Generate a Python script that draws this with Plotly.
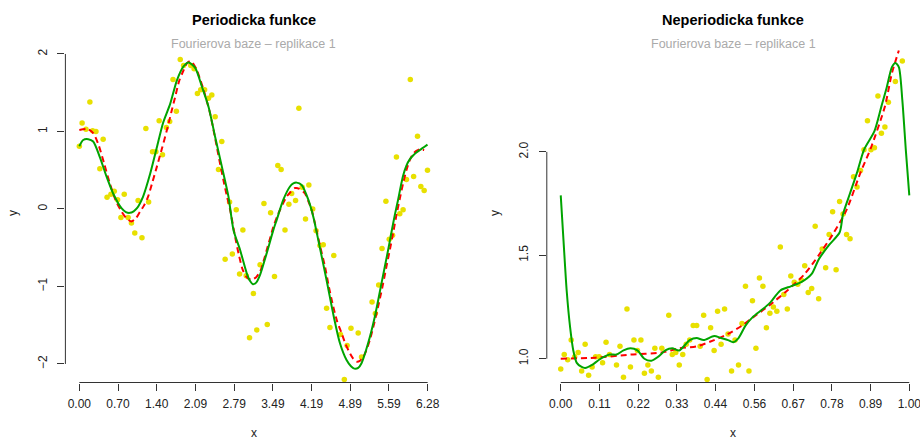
import plotly.graph_objects as go

# ---------------- periodic function panel ----------------
per_x = [0.00, 0.05, 0.12, 0.19, 0.24, 0.30, 0.37, 0.43, 0.50, 0.57, 0.63, 0.69, 0.75, 0.81, 0.88,
         0.94, 1.00, 1.06, 1.13, 1.20, 1.25, 1.32, 1.38, 1.44, 1.50, 1.57, 1.63, 1.69, 1.75, 1.82,
         1.88, 2.01, 2.07, 2.13, 2.19, 2.26, 2.33, 2.39, 2.45, 2.51, 2.57, 2.63, 2.71, 2.76, 2.83,
         2.89, 2.95, 3.01, 3.07, 3.14, 3.20, 3.26, 3.33, 3.39, 3.45, 3.52, 3.58, 3.64, 3.71, 3.78,
         3.83, 3.90, 3.96, 4.02, 4.08, 4.14, 4.21, 4.27, 4.34, 4.40, 4.46, 4.52, 4.59, 4.71, 4.78,
         4.83, 4.90, 5.03, 5.09, 5.28, 5.34, 5.40, 5.46, 5.53, 5.59, 5.65, 5.72, 5.78, 5.84, 5.90,
         5.97, 6.03, 6.10, 6.16, 6.22, 6.28]
per_y = [0.81, 1.11, 1.03, 1.38, 1.01, 1.00, 0.52, 0.90, 0.15, 0.19, 0.23, 0.12, -0.11, 0.19, -0.11,
         -0.18, -0.31, 0.11, -0.37, 1.04, 0.09, 0.74, 0.74, 1.14, 0.70, 1.05, 1.13, 1.67, 1.26, 1.93,
         1.85, 1.85, 1.81, 1.49, 1.54, 1.54, 1.43, 1.47, 1.19, 0.51, 0.87, -0.65, 0.09, -0.58, -0.01,
         -0.84, -0.27, -0.86, -1.66, -1.09, -1.56, -0.72, 0.07, -1.49, -0.05, -0.87, 0.56, 0.51, -0.27, 0.06,
         0.20, 0.11, 1.30, 0.28, -0.13, 0.31, 0.00, -0.28, -0.47, -0.46, -1.28, -1.53, -0.60, -1.62, -2.20,
         -1.76, -1.54, -1.60, -1.91, -1.20, -1.35, -0.98, -0.51, 0.10, -0.39, -0.34, 0.67, -0.06, -0.01, 0.38,
         1.67, 0.42, 0.94, 0.29, 0.24, 0.50]

per_true_x = [0.00, 0.15, 0.25, 0.35, 0.45, 0.55, 0.65, 0.75, 0.85, 0.94, 1.02, 1.09, 1.17, 1.24, 1.32,
              1.40, 1.49, 1.58, 1.66, 1.73, 1.80, 1.88, 1.94, 2.00, 2.06, 2.12, 2.18, 2.24, 2.30, 2.36,
              2.42, 2.48, 2.54, 2.60, 2.66, 2.72, 2.81, 2.88, 2.95, 3.03, 3.11, 3.19, 3.26, 3.32, 3.38,
              3.44, 3.50, 3.56, 3.62, 3.68, 3.74, 3.81, 3.89, 3.97, 4.07, 4.13, 4.19, 4.28, 4.35, 4.43,
              4.50, 4.58, 4.65, 4.73, 4.80, 4.88, 4.94, 5.00, 5.06, 5.12, 5.18, 5.24, 5.30, 5.36, 5.42,
              5.48, 5.54, 5.60, 5.66, 5.72, 5.78, 5.84, 5.90, 5.96, 6.02, 6.08, 6.14, 6.22]
per_true_y = [1.02, 1.03, 0.98, 0.82, 0.58, 0.33, 0.12, -0.02, -0.12, -0.16, -0.12, -0.04, 0.05, 0.16, 0.35,
              0.55, 0.78, 1.02, 1.25, 1.45, 1.65, 1.79, 1.88, 1.91, 1.87, 1.79, 1.67, 1.54, 1.39, 1.23,
              1.02, 0.80, 0.58, 0.37, 0.17, -0.01, -0.36, -0.60, -0.79, -0.89, -0.91, -0.88, -0.81, -0.68, -0.53,
              -0.38, -0.23, -0.11, -0.01, 0.08, 0.16, 0.22, 0.27, 0.26, 0.20, 0.10, -0.01, -0.28, -0.50, -0.74,
              -1.00, -1.26, -1.45, -1.60, -1.74, -1.86, -1.93, -1.97, -1.96, -1.91, -1.82, -1.69, -1.53, -1.35, -1.16,
              -0.96, -0.74, -0.53, -0.31, -0.08, 0.13, 0.33, 0.50, 0.63, 0.71, 0.75, 0.77, 0.76]

per_fit_x = [0.00, 0.07, 0.16, 0.25, 0.37, 0.49, 0.61, 0.76, 0.84, 0.91, 0.98, 1.04, 1.15, 1.28, 1.40,
             1.51, 1.64, 1.76, 1.88, 1.97, 2.09, 2.21, 2.33, 2.45, 2.57, 2.69, 2.78, 2.90, 3.02, 3.08,
             3.13, 3.19, 3.26, 3.38, 3.50, 3.56, 3.68, 3.80, 3.86, 3.92, 4.01, 4.13, 4.22, 4.31, 4.46,
             4.59, 4.70, 4.82, 4.90, 4.96, 5.03, 5.09, 5.21, 5.33, 5.45, 5.57, 5.63, 5.69, 5.75, 5.80,
             5.84, 5.90, 5.96, 6.02, 6.08, 6.16, 6.22, 6.28]
per_fit_y = [0.81, 0.89, 0.90, 0.87, 0.67, 0.42, 0.20, 0.01, -0.04, -0.05, -0.03, 0.01, 0.16, 0.46, 0.80,
             1.11, 1.36, 1.66, 1.84, 1.89, 1.82, 1.58, 1.32, 0.93, 0.55, 0.16, -0.27, -0.53, -0.83, -0.93,
             -0.97, -0.95, -0.85, -0.57, -0.27, -0.14, 0.12, 0.29, 0.33, 0.34, 0.31, 0.12, -0.10, -0.40, -0.92,
             -1.39, -1.73, -1.95, -2.03, -2.06, -2.05, -1.99, -1.73, -1.39, -0.96, -0.53, -0.30, -0.08, 0.12, 0.30,
             0.43, 0.56, 0.64, 0.69, 0.73, 0.77, 0.80, 0.83]

per_ticks = [0.00, 0.698, 1.396, 2.094, 2.793, 3.491, 4.189, 4.887, 5.585, 6.283]
per_tick_text = ["0.00", "0.70", "1.40", "2.09", "2.79", "3.49", "4.19", "4.89", "5.59", "6.28"]
per_yticks = [-2, -1, 0, 1, 2]

# ---------------- non-periodic function panel ----------------
non_x = [0.00, 0.01, 0.02, 0.03, 0.04, 0.05, 0.06, 0.07, 0.08, 0.09, 0.10, 0.11, 0.12, 0.13, 0.14,
         0.16, 0.17, 0.18, 0.19, 0.20, 0.21, 0.22, 0.23, 0.24, 0.25, 0.26, 0.27, 0.28, 0.29, 0.31,
         0.32, 0.33, 0.34, 0.35, 0.36, 0.37, 0.38, 0.39, 0.40, 0.41, 0.42, 0.43, 0.44, 0.45, 0.46,
         0.47, 0.48, 0.49, 0.50, 0.51, 0.52, 0.53, 0.54, 0.55, 0.56, 0.57, 0.58, 0.59, 0.60, 0.61,
         0.62, 0.63, 0.64, 0.65, 0.66, 0.67, 0.68, 0.69, 0.70, 0.71, 0.72, 0.73, 0.74, 0.75, 0.76,
         0.77, 0.78, 0.79, 0.80, 0.81, 0.82, 0.83, 0.84, 0.85, 0.86, 0.87, 0.88, 0.89, 0.90, 0.91,
         0.92, 0.93, 0.94, 0.96, 0.98]
non_y = [0.95, 1.02, 0.995, 1.09, 1.01, 1.03, 0.94, 1.07, 0.92, 0.96, 1.01, 1.01, 0.98, 1.08, 1.02,
         0.97, 1.06, 0.91, 1.24, 0.96, 1.09, 1.04, 1.09, 0.93, 0.97, 0.94, 1.05, 0.91, 1.05, 1.21,
         1.02, 1.03, 0.97, 1.02, 1.07, 1.09, 1.16, 1.16, 1.06, 1.21, 0.90, 1.15, 1.04, 1.23, 1.07,
         1.24, 1.12, 0.94, 1.09, 0.97, 1.17, 1.35, 0.94, 1.28, 1.05, 1.39, 1.35, 1.15, 1.22, 1.25,
         1.23, 1.54, 1.31, 1.24, 1.40, 1.37, 1.36, 1.38, 1.45, 1.32, 1.34, 1.64, 1.29, 1.53, 1.44,
         1.60, 1.71, 1.43, 1.76, 1.70, 1.60, 1.58, 1.88, 1.83, 1.91, 2.01, 2.15, 2.01, 2.02, 2.27,
         2.09, 2.12, 2.24, 2.34, 2.44]

non_true_x = [0.00, 0.10, 0.20, 0.29, 0.34, 0.39, 0.44, 0.48, 0.52, 0.56, 0.60, 0.65, 0.70, 0.74,
              0.78, 0.82, 0.86, 0.89, 0.93, 0.95, 0.97]
non_true_y = [1.00, 1.005, 1.02, 1.03, 1.05, 1.06, 1.09, 1.12, 1.16, 1.21, 1.26, 1.33, 1.41, 1.50,
              1.60, 1.72, 1.90, 2.02, 2.22, 2.38, 2.49]

non_fit_x = [0.000, 0.008, 0.017, 0.027, 0.036, 0.046, 0.06, 0.07, 0.09, 0.11, 0.14, 0.16, 0.18, 0.20,
             0.22, 0.24, 0.26, 0.28, 0.30, 0.32, 0.34, 0.37, 0.39, 0.41, 0.44, 0.46, 0.48, 0.495, 0.51,
             0.53, 0.55, 0.58, 0.60, 0.63, 0.66, 0.69, 0.72, 0.74, 0.77, 0.80, 0.81, 0.83, 0.85, 0.87,
             0.90, 0.92, 0.935, 0.95, 0.96, 0.97, 0.98, 0.99, 1.00]
non_fit_y = [1.79, 1.57, 1.33, 1.15, 1.04, 0.98, 0.96, 0.955, 0.97, 0.995, 1.02, 1.02, 1.04, 1.05,
             1.04, 1.00, 0.99, 1.01, 1.04, 1.05, 1.04, 1.09, 1.10, 1.09, 1.11, 1.10, 1.09, 1.08, 1.10,
             1.16, 1.20, 1.24, 1.27, 1.33, 1.35, 1.37, 1.41, 1.48, 1.55, 1.61, 1.70, 1.80, 1.90, 2.01,
             2.10, 2.22, 2.31, 2.41, 2.43, 2.41, 2.25, 2.01, 1.79]

non_ticks = [0.00, 0.111, 0.222, 0.333, 0.444, 0.556, 0.667, 0.778, 0.889, 1.00]
non_tick_text = ["0.00", "0.11", "0.22", "0.33", "0.44", "0.56", "0.67", "0.78", "0.89", "1.00"]
non_yticks = [1.0, 1.5, 2.0]

titles = ["Periodicka funkce", "Neperiodicka funkce"]
subtitle = "Fourierova baze \u2013 replikace 1"

# ---------------- styling ----------------
W, H = 920, 439
FONT = "Liberation Sans, Arial, Helvetica, sans-serif"
PT_COLOR = "#e8e000"
TRUE_COLOR = "#ff0000"
FIT_COLOR = "#00a400"
AX_COLOR = "#333333"

# plot regions in pixels (left, right, top, bottom)
regions = [(65.4, 441.6, 46, 382.5), (546.8, 920.0, 46, 382.5)]
x_ranges = [[-0.2513, 6.5345], [-0.04, 1.0307]]
y_ranges = [[-2.239, 2.103], [0.885, 2.512]]


def px_dom_x(a, b):
    return [a / W, b / W]


def px_dom_y(top, bottom):
    return [(H - bottom) / H, (H - top) / H]


fig = go.Figure()

panels = [
    (per_x, per_y, per_true_x, per_true_y, per_fit_x, per_fit_y, per_ticks, per_tick_text, per_yticks),
    (non_x, non_y, non_true_x, non_true_y, non_fit_x, non_fit_y, non_ticks, non_tick_text, non_yticks),
]

for i, (px_, py_, tx, ty, fx, fy, ticks, ticktext, yticks) in enumerate(panels):
    xa = "x" if i == 0 else "x2"
    ya = "y" if i == 0 else "y2"
    fig.add_trace(go.Scatter(x=px_, y=py_, mode="markers", xaxis=xa, yaxis=ya,
                             marker=dict(color=PT_COLOR, size=5.5, line=dict(width=0)),
                             showlegend=False, hoverinfo="skip"))
    fig.add_trace(go.Scatter(x=tx, y=ty, mode="lines", xaxis=xa, yaxis=ya,
                             line=dict(color=TRUE_COLOR, width=2, dash="6px,4px", shape="spline",
                                       smoothing=0.7),
                             showlegend=False, hoverinfo="skip"))
    fig.add_trace(go.Scatter(x=fx, y=fy, mode="lines", xaxis=xa, yaxis=ya,
                             line=dict(color=FIT_COLOR, width=2, shape="spline", smoothing=0.7),
                             showlegend=False, hoverinfo="skip"))

    l, r, t, b = regions[i]
    axis_common = dict(showgrid=False, zeroline=False, showline=False, ticks="outside",
                       ticklen=7, tickwidth=1, tickcolor=AX_COLOR,
                       tickfont=dict(family=FONT, size=12, color="#222222"),
                       ticklabeloverflow="allow")
    fig.update_layout(**{
        ("xaxis" if i == 0 else "xaxis2"): dict(
            domain=px_dom_x(l, r), range=x_ranges[i], anchor=ya,
            tickmode="array", tickvals=ticks, ticktext=ticktext,
            ticklabelstandoff=3, **axis_common),
        ("yaxis" if i == 0 else "yaxis2"): dict(
            domain=px_dom_y(t, b), range=y_ranges[i], anchor=xa,
            tickmode="array", tickvals=yticks,
            ticktext=[("%g" % v).replace("-", "\u2212") if i == 0 else "%.1f" % v for v in yticks],
            tickangle=-90, ticklabelstandoff=6, **axis_common),
    })

    # axis lines spanning first to last tick
    fig.add_shape(type="line", xref=xa, yref=f"{ya} domain", x0=ticks[0], x1=ticks[-1], y0=0, y1=0,
                  line=dict(color=AX_COLOR, width=1))
    fig.add_shape(type="line", xref=f"{xa} domain", yref=ya, x0=0, x1=0, y0=yticks[0], y1=yticks[-1],
                  line=dict(color=AX_COLOR, width=1))

    cx = ((l + r) / 2) / W
    fig.add_annotation(text="<b>%s</b>" % titles[i], xref="paper", yref="paper", x=cx, y=1 - 20 / H,
                       xanchor="center", yanchor="middle", showarrow=False,
                       font=dict(family=FONT, size=14.5, color="#000000"))
    fig.add_annotation(text=subtitle, xref="paper", yref="paper", x=cx, y=1 - 44 / H,
                       xanchor="center", yanchor="middle", showarrow=False,
                       font=dict(family=FONT, size=12.5, color="#aaaaaa"))
    fig.add_annotation(text="x", xref="paper", yref="paper", x=cx, y=1 - 433 / H,
                       xanchor="center", yanchor="middle", showarrow=False,
                       font=dict(family=FONT, size=12, color="#222222"))
    ylab_x = 13 if i == 0 else 495
    fig.add_annotation(text="y", xref="paper", yref="paper", x=ylab_x / W, y=1 - 213 / H,
                       xanchor="center", yanchor="middle", showarrow=False, textangle=-90,
                       font=dict(family=FONT, size=12, color="#222222"))

fig.update_layout(width=W, height=H, autosize=False,
                  margin=dict(l=0, r=0, t=0, b=0, pad=0),
                  paper_bgcolor="white", plot_bgcolor="white")

fig.write_html("out.html")
